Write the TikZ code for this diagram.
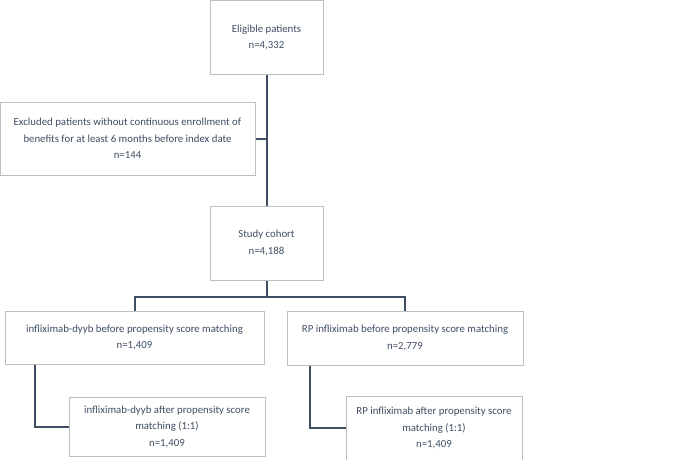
\documentclass[tikz,border=0pt]{standalone}
\usepackage{fontspec}
\setmainfont{Carlito}
\usepackage{xcolor}
\definecolor{slate}{HTML}{3E4D62}
\definecolor{boxgray}{HTML}{BFBFBF}
\usepackage{tikz}

\begin{document}
\begin{tikzpicture}[x=1pt,y=-1pt,
  flow box/.style={rectangle,draw=boxgray,line width=1pt,text=slate,
  align=center,inner sep=0pt,font=\fontsize{10.8}{16.5}\selectfont},
  link/.style={draw=slate,line width=2pt}]
  \useasboundingbox (0,0) rectangle (685,460);

  \node[flow box,minimum width=113pt,minimum height=73pt] (elig) at (266.5,37.5)
    {Eligible patients\\n=4,332};
  \node[flow box,minimum width=255pt,minimum height=73pt] (excl) at (127.5,138.5)
    {Excluded patients without continuous enrollment of\\benefits for at least 6 months before index date\\n=144};
  \node[flow box,minimum width=113pt,minimum height=74pt] (study) at (266.5,243)
    {Study cohort\\n=4,188};
  \node[flow box,minimum width=259pt,minimum height=53pt] (dyyb) at (134.5,337.5)
    {infliximab-dyyb before propensity score matching\\n=1,409};
  \node[flow box,minimum width=236pt,minimum height=54pt] (rp) at (405,338)
    {RP infliximab before propensity score matching\\n=2,779};
  \node[flow box,minimum width=196pt,minimum height=59pt] (dyybm) at (167,426.5)
    {infliximab-dyyb after propensity score\\matching (1:1)\\n=1,409};
  \node[flow box,minimum width=176pt,minimum height=64pt] (rpm) at (434,428)
    {RP infliximab after propensity score\\matching (1:1)\\n=1,409};

  \path[link]
    (elig.south) -- (study.north)
    (excl.east) -- (excl.east -| elig.south);
  \coordinate (split) at ([yshift=-16pt]study.south);
  \path[link] (study.south) -- (split);
  \path[link] (dyyb.north) |- (split) -| (rp.north);
  \path[link] ([xshift=30pt]dyyb.south west) |- (dyybm.west);
  \path[link] ([xshift=23pt]rp.south west) |- (rpm.west);
\end{tikzpicture}
\end{document}
